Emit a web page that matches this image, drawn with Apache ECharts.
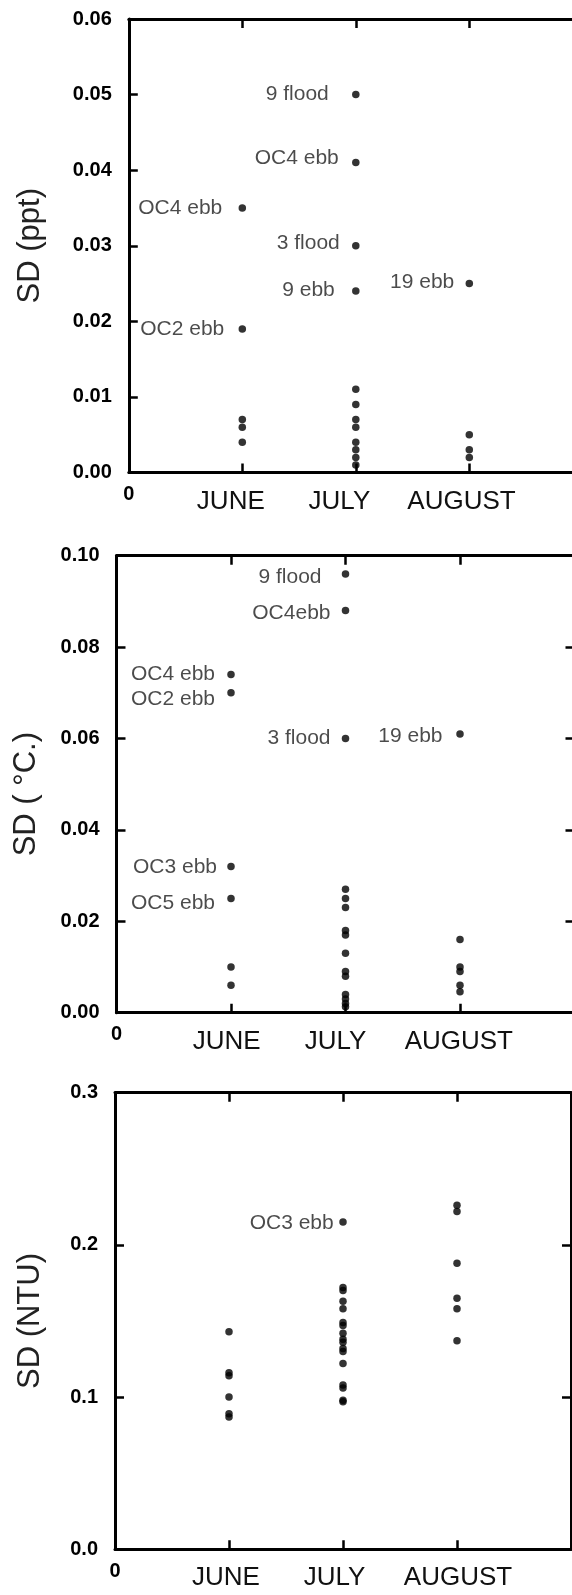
<!DOCTYPE html>
<html>
<head>
<meta charset="utf-8">
<script src="https://cdn.jsdelivr.net/npm/echarts@6/dist/echarts.min.js"></script>
<style>
  html, body { margin: 0; padding: 0; background: #ffffff; overflow: hidden; }
  #chart { width: 640px; height: 1595px; }
</style>
</head>
<body>
<div id="chart"></div>
<script>
// Monthly standard deviations of the station readings, one dot per station/tide.
const months = ['JUNE', 'JULY', 'AUGUST'];

// Salinity, SD (ppt)
const salinityJune = [0.035, 0.019, 0.007, 0.006, 0.004];
const salinityJuly = [0.050, 0.041, 0.030, 0.024, 0.011, 0.009, 0.007, 0.006, 0.004, 0.003, 0.002, 0.001];
const salinityAugust = [0.025, 0.005, 0.003, 0.002];
const salinityJuneTags = ['OC4 ebb', 'OC2 ebb'];
const salinityJulyTags = ['9 flood', 'OC4 ebb', '3 flood', '9 ebb'];
const salinityAugustTags = ['19 ebb'];

// Temperature, SD (°C)
const temperatureJune = [0.074, 0.070, 0.032, 0.025, 0.010, 0.006];
const temperatureJuly = [0.096, 0.088, 0.060, 0.027, 0.025, 0.023, 0.018, 0.017, 0.013, 0.009, 0.008, 0.004, 0.003, 0.002, 0.0013];
const temperatureAugust = [0.061, 0.016, 0.010, 0.009, 0.006, 0.0046];
const temperatureJuneTags = ['OC4 ebb', 'OC2 ebb', 'OC3 ebb', 'OC5 ebb'];
const temperatureJulyTags = ['9 flood', 'OC4ebb', '3 flood'];
const temperatureAugustTags = ['19 ebb'];

// Turbidity, SD (NTU)
const turbidityJune = [0.143, 0.116, 0.114, 0.100, 0.089, 0.087];
const turbidityJuly = [0.215, 0.172, 0.170, 0.163, 0.158, 0.149, 0.147, 0.142, 0.138, 0.136, 0.132, 0.130, 0.122, 0.108, 0.106, 0.098, 0.097];
const turbidityAugust = [0.226, 0.222, 0.188, 0.165, 0.158, 0.137];
const turbidityJuneTags = [];
const turbidityJulyTags = ['OC3 ebb'];
const turbidityAugustTags = [];

// Panel layout and label placement ([gap to dot centre, vertical nudge] per tag)
const panels = [
  {
    title: 'SD (ppt)', max: 0.06, step: 0.01, digits: 2,
    values: [salinityJune, salinityJuly, salinityAugust],
    tags: [salinityJuneTags, salinityJulyTags, salinityAugustTags],
    box: { left: 128.8, top: 19, width: 454, height: 453.5 },
    nameGap: 83, nameShift: 0, monthShift: [-11.5, -16.4, -7.8],
    place: [[[20, 0], [18, 0.7]], [[27, 0], [17, -4.7], [16, -2.7], [21, -1.3]], [[15, -1]]]
  },
  {
    title: 'SD ( °C.)', max: 0.10, step: 0.02, digits: 2,
    values: [temperatureJune, temperatureJuly, temperatureAugust],
    tags: [temperatureJuneTags, temperatureJulyTags, temperatureAugustTags],
    box: { left: 116.5, top: 555.7, width: 458, height: 457 },
    nameGap: 74.5, nameShift: 10, monthShift: [-4.4, -10, -1.2],
    place: [[[16, -0.7], [16, 6], [14, 0.7], [16, 4.3]], [[24, 3.3], [15, 2.3], [15, -0.7]], [[17.5, 2.3]]]
  },
  {
    title: 'SD (NTU)', max: 0.3, step: 0.1, digits: 1,
    values: [turbidityJune, turbidityJuly, turbidityAugust],
    tags: [turbidityJuneTags, turbidityJulyTags, turbidityAugustTags],
    box: { left: 115, top: 1092.7, width: 456, height: 456.6 },
    nameGap: 69, nameShift: 0, monthShift: [-3, -8.4, 1],
    place: [[], [[9.3, 0.7]], []]
  }
];

const DOT = 7.5;
const AXIS_W = 3;
const lineStyle = { color: '#000', width: AXIS_W };
const tickStyle = { show: true, inside: true, length: 9, lineStyle: { color: '#000', width: 2.5 } };
const numberFont = { fontFamily: 'Liberation Sans', fontWeight: 'bold', fontSize: 20, color: '#000' };

const grid = [], xAxis = [], yAxis = [], series = [];

panels.forEach((p, i) => {
  grid.push({ left: p.box.left, top: p.box.top, width: p.box.width, height: p.box.height, containLabel: false });

  const rich = { z: Object.assign({ lineHeight: 20 }, numberFont) };
  p.monthShift.forEach((s, k) => {
    rich['m' + k] = {
      fontFamily: 'Liberation Sans', fontSize: 26, color: '#111', lineHeight: 26,
      padding: [8, s < 0 ? -2 * s : 0, 0, s > 0 ? 2 * s : 0]
    };
  });

  // bottom axis with month names
  xAxis.push({
    type: 'value', gridIndex: i, min: 0, max: 4, interval: 1, position: 'bottom',
    axisLine: { show: true, lineStyle }, axisTick: tickStyle, splitLine: { show: false },
    axisLabel: {
      show: true, margin: 12, hideOverlap: false, showMinLabel: true, showMaxLabel: true,
      formatter: v => v === 0 ? '{z|0}' : (v >= 1 && v <= 3 ? '{m' + (v - 1) + '|' + months[v - 1] + '}' : ''),
      rich
    }
  });
  // top frame edge
  xAxis.push({
    type: 'value', gridIndex: i, min: 0, max: 4, interval: 1, position: 'top',
    axisLine: { show: true, onZero: false, lineStyle }, axisTick: tickStyle,
    axisLabel: { show: false }, splitLine: { show: false }
  });
  // left value axis
  yAxis.push({
    type: 'value', gridIndex: i, min: 0, max: p.max, interval: p.step, position: 'left',
    name: p.title, nameLocation: 'middle', nameRotate: 90, nameGap: p.nameGap,
    nameTextStyle: {
      fontFamily: 'Liberation Sans', fontSize: 31, color: '#222',
      padding: [0, 2 * p.nameShift, 0, 0]
    },
    axisLine: { show: true, onZero: false, lineStyle }, axisTick: tickStyle, splitLine: { show: false },
    axisLabel: Object.assign({ show: true, margin: 17, formatter: v => v.toFixed(p.digits) }, numberFont)
  });
  // right frame edge
  yAxis.push({
    type: 'value', gridIndex: i, min: 0, max: p.max, interval: p.step, position: 'right',
    axisLine: { show: true, onZero: false, lineStyle }, axisTick: tickStyle,
    axisLabel: { show: false }, splitLine: { show: false }
  });

  const data = [];
  p.values.forEach((vals, m) => {
    vals.forEach((v, k) => {
      const item = { value: [m + 1, v] };
      const tag = p.tags[m][k];
      if (tag) {
        const [gap, dy] = p.place[m][k];
        item.label = {
          show: true, position: 'left', distance: gap - DOT / 2, offset: [0, dy],
          formatter: tag, fontFamily: 'Liberation Sans', fontSize: 21, color: '#1e1e1e'
        };
      }
      data.push(item);
    });
  });
  series.push({
    type: 'scatter', xAxisIndex: 2 * i, yAxisIndex: 2 * i,
    symbol: 'circle', symbolSize: DOT, itemStyle: { color: '#000' },
    data, silent: true
  });
});

const chart = echarts.init(document.getElementById('chart'), null, { renderer: 'canvas' });
chart.setOption({
  animation: false,
  backgroundColor: '#ffffff',
  grid, xAxis, yAxis, series
});
</script>
</body>
</html>
